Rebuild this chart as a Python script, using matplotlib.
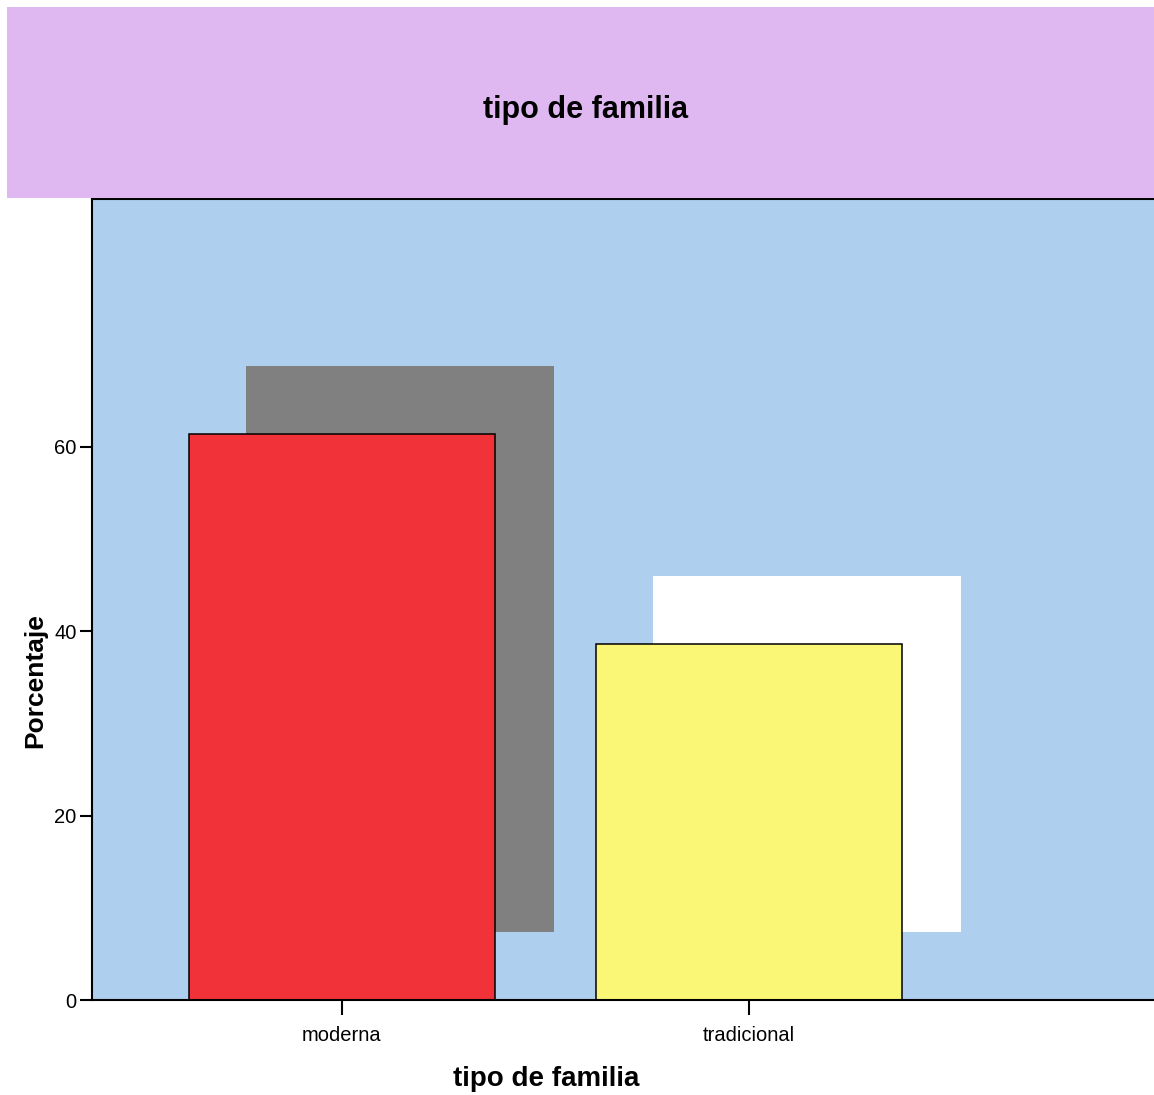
import matplotlib
matplotlib.use("Agg")
import matplotlib.pyplot as plt
from matplotlib.patches import Rectangle

# Family type distribution (percent)
categories = ["moderna", "tradicional"]
percentages = [61.4, 38.6]
bar_colors = ["#F23239", "#FAF777"]
shadow_colors = ["#808080", "#FFFFFF"]
y_ticks = [0, 20, 40, 60]

plt.rcParams["font.family"] = ["Liberation Sans", "DejaVu Sans"]

W, H = 1154, 1095
fig = plt.figure(figsize=(W / 100, H / 100), dpi=100)

# Title band
fig.patches.append(Rectangle((7 / W, 1 - 198 / H), 1 - 7 / W, 191 / H,
                             transform=fig.transFigure, facecolor="#DFB8F2",
                             edgecolor="none", zorder=0))
fig.text(586 / W, 1 - 110 / H, "tipo de familia", ha="center", va="center",
         fontsize=22, fontweight="bold")

ax = fig.add_axes([92 / W, 1 - 1000 / H, (W - 92) / W, 801 / H])
ax.set_facecolor("#AED0EE")

x = list(range(len(categories)))
width = 0.75
dx, dy = 0.14, 7.4

# Drop shadows behind the bars
for xi, v, c in zip(x, percentages, shadow_colors):
    ax.add_patch(Rectangle((xi - width / 2 + dx, dy), width + 0.005, v,
                           facecolor=c, edgecolor="none", zorder=1))

ax.bar(x, percentages, width=width, color=bar_colors, edgecolor="black",
       linewidth=1.1, zorder=2)

ax.set_xlim(-0.614, 1.995)
ax.set_ylim(0, 86.9)
ax.set_xticks(x)
ax.set_xticklabels(categories)
ax.set_yticks(y_ticks)

ax.tick_params(axis="y", length=9, width=1.5, pad=2, labelsize=14.5)
ax.tick_params(axis="x", length=11, width=1.5, pad=8, labelsize=14.5)

for side in ["left", "bottom", "top"]:
    ax.spines[side].set_linewidth(1.5)
    ax.spines[side].set_color("black")
ax.spines["right"].set_visible(False)

ax.set_xlabel("tipo de familia", fontsize=20, fontweight="bold", va="center")
ax.xaxis.set_label_coords((546 - 92) / (W - 92), (1000 - 1079) / 801)
ax.set_ylabel("Porcentaje", fontsize=19, fontweight="bold", va="center")
ax.yaxis.set_label_coords((35 - 92) / (W - 92), (1000 - 681) / 801)

fig.savefig("out.png", dpi=100, facecolor="white")
